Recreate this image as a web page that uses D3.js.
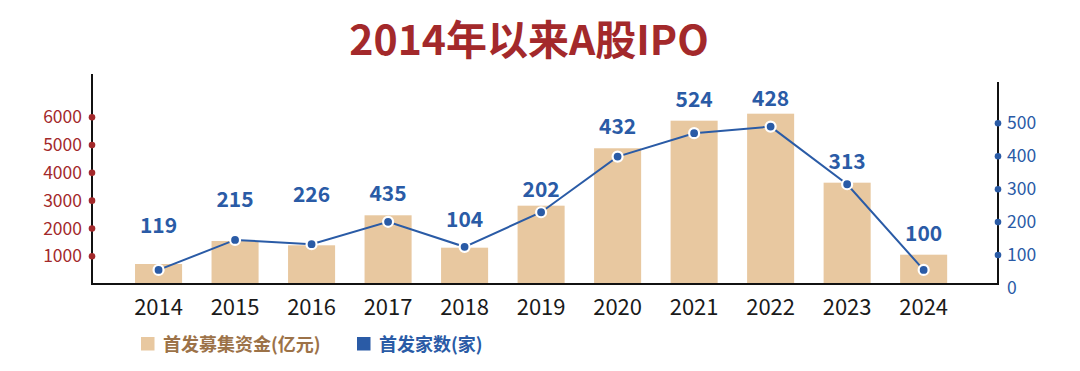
<!DOCTYPE html>
<html>
<head>
<meta charset="utf-8">
<script src="https://cdn.jsdelivr.net/npm/d3@7"></script>
<style>
  body { margin: 0; background: #fff; }
  text { font-family: "Noto Sans CJK SC", "Noto Sans", sans-serif; }
</style>
</head>
<body>
<div class="chart"></div>
<script>
//Data
const years = ['2014','2015','2016','2017','2018','2019','2020','2021','2022','2023','2024'];
//首发募集资金(亿元) - bars, left axis
const funds = [720, 1548, 1393, 2473, 1307, 2819, 4885, 5878, 6130, 3647, 1055];
//首发家数(家) - labels as printed
const counts = [119, 215, 226, 435, 104, 202, 432, 524, 428, 313, 100];
//line points as drawn against the right axis
const countLine = [55, 146, 133, 201, 125, 230, 399, 470, 490, 315, 55];
const leftTicks = [1000, 2000, 3000, 4000, 5000, 6000];
const rightTicks = [0, 100, 200, 300, 400, 500];

//extra lift of the count labels (hand placed in the original)
const labelLift = [17, 19, 28, 0, 6, -5, 0, 0, -6, 0, 0];

const width = 1080;
const height = 371;
const red = '#a3292b';
const blue = '#2a5ba6';
const tan = '#e8c8a0';

const svg = d3.select('.chart')
	.append('svg')
	.attr('width', width)
	.attr('height', height);

//Scales
const x = d3.scaleBand()
	.domain(years)
	.range([120.3, 961.9])
	.paddingInner(0.385)
	.paddingOuter(0.1925);
const yL = d3.scaleLinear().domain([0, 6000]).range([284, 117.3]);
const yR = d3.scaleLinear().domain([0, 500]).range([288, 123.3]);

//Title
svg.append('text')
	.attr('x', 529)
	.attr('y', 55)
	.attr('text-anchor', 'middle')
	.attr('font-size', '41px')
	.attr('font-weight', 'bold')
	.attr('fill', red)
	.text('2014年以来A股IPO');

//Bars
svg.selectAll('rect.bar')
	.data(funds)
	.enter()
	.append('rect')
	.attr('class', 'bar')
	.attr('x', (d,i)=>x(years[i]))
	.attr('width', x.bandwidth())
	.attr('y', d=>yL(d))
	.attr('height', d=>yL(0) - yL(d))
	.attr('fill', tan);

//Axes lines
svg.append('line')
	.attr('x1', 92).attr('x2', 92)
	.attr('y1', 74).attr('y2', 285)
	.attr('stroke', '#111').attr('stroke-width', 2);
svg.append('line')
	.attr('x1', 998).attr('x2', 998)
	.attr('y1', 82).attr('y2', 285)
	.attr('stroke', '#111').attr('stroke-width', 2);
svg.append('line')
	.attr('x1', 91).attr('x2', 999)
	.attr('y1', 284).attr('y2', 284)
	.attr('stroke', '#111').attr('stroke-width', 2);

//Left ticks: red dots + labels
svg.selectAll('circle.lt')
	.data(leftTicks)
	.enter()
	.append('circle')
	.attr('class', 'lt')
	.attr('cx', 92)
	.attr('cy', d=>yL(d))
	.attr('r', 3.3)
	.attr('fill', red);
svg.selectAll('text.lt')
	.data(leftTicks)
	.enter()
	.append('text')
	.attr('class', 'lt')
	.attr('x', 82)
	.attr('y', d=>yL(d))
	.attr('dy', '0.35em')
	.attr('text-anchor', 'end')
	.attr('font-size', '17.5px')
	.attr('fill', red)
	.text(d=>d);

//Right ticks: blue dots + labels
svg.selectAll('circle.rt')
	.data(rightTicks.filter(d=>d>0))
	.enter()
	.append('circle')
	.attr('class', 'rt')
	.attr('cx', 998)
	.attr('cy', d=>yR(d))
	.attr('r', 3.3)
	.attr('fill', blue);
svg.selectAll('text.rt')
	.data(rightTicks)
	.enter()
	.append('text')
	.attr('class', 'rt')
	.attr('x', 1007)
	.attr('y', d=>yR(d))
	.attr('dy', '0.35em')
	.attr('font-size', '17.5px')
	.attr('fill', blue)
	.text(d=>d);

//Year labels
svg.selectAll('text.year')
	.data(years)
	.enter()
	.append('text')
	.attr('class', 'year')
	.attr('x', d=>x(d) + x.bandwidth()/2)
	.attr('y', 315)
	.attr('text-anchor', 'middle')
	.attr('font-size', '22px')
	.attr('fill', '#1a1a1a')
	.text(d=>d);

//Line
const cx = (d,i)=>x(years[i]) + x.bandwidth()/2;
const line = d3.line()
	.x(cx)
	.y(d=>yR(d));
svg.append('path')
	.datum(countLine)
	.attr('d', line)
	.attr('fill', 'none')
	.attr('stroke', blue)
	.attr('stroke-width', 2);
svg.selectAll('circle.pt')
	.data(countLine)
	.enter()
	.append('circle')
	.attr('class', 'pt')
	.attr('cx', cx)
	.attr('cy', d=>yR(d))
	.attr('r', 5)
	.attr('fill', blue)
	.attr('stroke', '#fff')
	.attr('stroke-width', 2.2);

//Count labels
svg.selectAll('text.cnt')
	.data(counts)
	.enter()
	.append('text')
	.attr('class', 'cnt')
	.attr('x', (d,i)=>cx(d,i))
	.attr('y', (d,i)=>Math.min(yL(funds[i]), yR(countLine[i])) - 14 - labelLift[i])
	.attr('text-anchor', 'middle')
	.attr('font-size', '21px')
	.attr('font-weight', 'bold')
	.attr('fill', blue)
	.text(d=>d);

//Legend
const legend = [
	{name: '首发募集资金(亿元)', color: tan, text: '#9c7248', x: 141},
	{name: '首发家数(家)', color: blue, text: blue, x: 357}
];
const lg = svg.selectAll('g.legend')
	.data(legend)
	.enter()
	.append('g')
	.attr('class', 'legend')
	.attr('transform', d=>`translate(${d.x},337)`);
lg.append('rect')
	.attr('width', 13.5)
	.attr('height', 13.5)
	.attr('fill', d=>d.color);
lg.append('text')
	.attr('x', 22)
	.attr('y', 14)
	.attr('font-size', '18px')
	.attr('font-weight', 'bold')
	.attr('fill', d=>d.text)
	.text(d=>d.name);
</script>
</body>
</html>
